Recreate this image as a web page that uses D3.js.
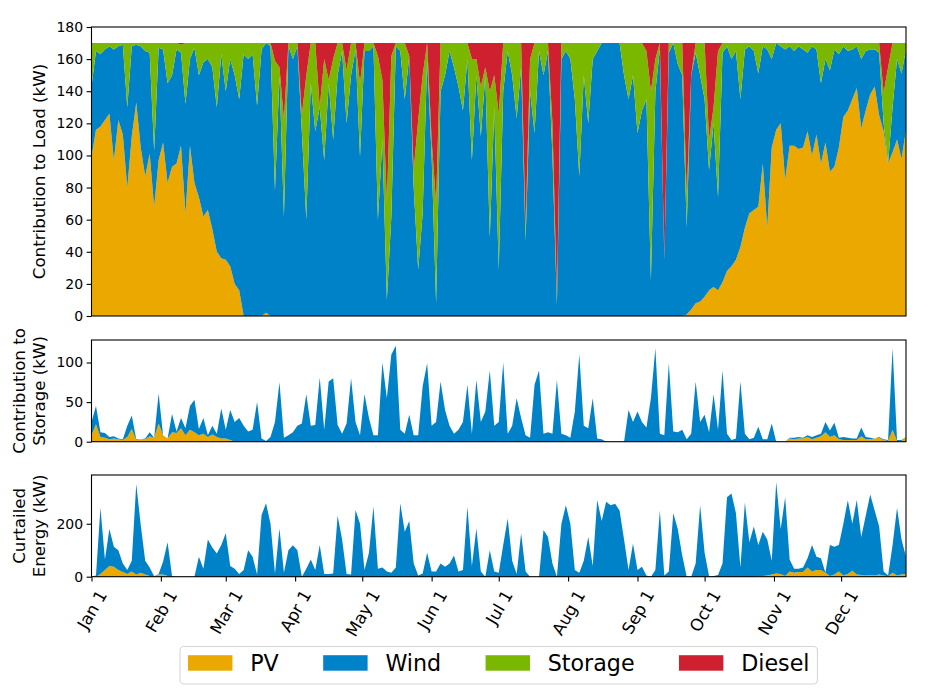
<!DOCTYPE html>
<html>
<head>
<meta charset="utf-8">
<script src="https://cdn.jsdelivr.net/npm/d3@7"></script>
<style>
body { margin: 0; background: #fff; }
text { font-family: "DejaVu Sans", sans-serif; }
</style>
</head>
<body>
<div id="container"></div>
<script>
// one sample every 2 days, from Jan 1 2016
const start = new Date(2016, 0, 1);
const dates = d3.range(183).map(i => d3.timeDay.offset(start, 2 * i));
const monthTicks = d3.timeMonth.range(new Date(2016, 0, 1), new Date(2016, 11, 2));

// contribution to load (kW)
const loadPV = [
  99,116,118,122,126,97,122,113,80,112, 133,105,87,101,68,97,108,83,93,95,
  106,64,106,83,74,62,66,54,40,36, 35,31,20,16,0,0,0,0,0,2,
  0,0,0,0,0,0,0,0,0,0, 0,0,0,0,0,0,0,0,0,0,
  0,0,0,0,0,0,0,0,0,0, 0,0,0,0,0,0,0,0,0,0,
  0,0,0,0,0,0,0,0,0,0, 0,0,0,0,0,0,0,0,0,0,
  0,0,0,0,0,0,0,0,0,0, 0,0,0,0,0,0,0,0,0,0,
  0,0,0,0,0,0,0,0,0,0, 0,0,0,1,4,8,9,12,16,18,
  16,21,28,31,35,43,55,64,66,68, 95,55,105,116,120,85,106,106,104,105,
  115,100,113,95,108,90,93,105,124,128, 135,142,117,128,138,143,125,115,95,102,
  110,98,116
];
const loadWind = [
  44,49,45,44,42,69,46,56,50,56, 36,63,78,63,35,70,58,62,57,71,
  58,68,54,84,76,96,94,101,90,127, 105,129,130,119,163,160,163,131,166,168,
  168,78,150,62,168,160,168,115,60,145, 115,130,97,145,110,150,165,120,150,166,
  99,165,165,168,60,110,10,62,168,165, 135,162,80,29,64,160,100,8,140,150,
  165,155,143,128,160,97,150,112,150,49, 130,29,140,165,150,123,155,47,140,114,
  165,150,165,100,7,160,165,160,135,87, 150,120,160,165,170,170,170,170,170,150,
  135,150,114,128,135,22,140,166,35,164, 170,157,150,54,146,156,141,123,75,102,
  58,143,140,129,130,92,111,104,99,83, 73,111,55,54,48,81,62,59,64,61,
  49,68,53,50,52,63,73,58,44,37, 31,26,43,37,28,23,39,5,0,28,
  50,53,50
];
const loadStorage = [
  27,5,7,4,2,4,2,1,40,2, 1,2,5,6,67,3,4,25,20,4,
  5,38,10,3,20,12,10,15,40,7, 30,10,20,35,7,10,7,39,4,0,
  2,81,5,60,2,10,2,10,90,25, 55,0,63,2,50,20,5,33,20,4,
  46,5,5,2,102,37,60,100,2,5, 35,0,11,93,86,10,10,62,30,20,
  5,15,27,42,10,63,10,31,5,91, 20,97,30,5,20,47,15,8,20,56,
  5,20,5,20,5,10,5,10,35,83, 20,50,10,5,0,0,0,0,0,20,
  35,20,56,42,30,118,20,4,0,6, 0,13,20,20,0,6,20,35,19,10,
  91,6,2,10,5,35,4,2,5,19, 2,4,10,0,2,4,2,5,2,4,
  6,2,4,25,10,17,4,7,2,5, 4,2,10,5,4,4,6,19,60,40,
  10,19,4
];
const loadDiesel = [
  0,0,0,0,0,0,0,0,0,0, 0,0,0,0,0,0,0,0,0,0,
  1,0,0,0,0,0,0,0,0,0, 0,0,0,0,0,0,0,0,0,0,
  0,11,15,48,0,0,0,45,20,0, 0,40,10,23,10,0,0,17,0,0,
  25,0,0,0,8,23,100,8,0,0, 0,8,79,48,20,0,60,100,0,0,
  0,0,0,0,0,10,10,27,15,30, 20,44,0,0,0,0,0,115,10,0,
  0,0,0,50,158,0,0,0,0,0, 0,0,0,0,0,0,0,0,0,0,
  0,0,0,0,5,30,10,0,135,0, 0,0,0,95,20,0,0,0,60,40,
  5,0,0,0,0,0,0,0,0,0, 0,0,0,0,0,0,0,0,0,0,
  0,0,0,0,0,0,0,0,0,0, 0,0,0,0,0,0,0,31,15,0,
  0,0,0
];

// contribution to storage (kW)
const storagePV = [
  8,22,6,5,3,4,3,2,6,16, 2,3,3,7,5,23,8,4,12,11,
  17,8,15,12,8,10,6,9,6,4, 4,2,0,0,0,0,0,0,0,0,
  0,0,0,0,0,0,0,0,0,0, 0,0,0,0,0,0,0,0,0,0,
  0,0,0,0,0,0,0,0,0,0, 0,0,0,0,0,0,0,0,0,0,
  0,0,0,0,0,0,0,0,0,0, 0,0,0,0,0,0,0,0,0,0,
  0,0,0,0,0,0,0,0,0,0, 0,0,0,0,0,0,0,0,0,0,
  0,0,0,0,0,0,0,0,0,0, 0,0,0,0,0,0,0,0,0,0,
  0,0,0,0,0,0,0,0,0,0, 0,0,0,0,0,0,4,3,4,4,
  6,3,5,7,12,6,8,3,2,2, 2,2,7,3,3,4,5,2,1,15,
  1,1,6
];
const storageWind = [
  17,23,6,6,3,3,1,1,14,17, 1,0,1,5,0,38,0,0,23,2,
  13,9,30,41,8,20,2,11,4,38, 11,38,25,30,20,13,15,50,4,1,
  6,25,75,5,8,12,20,23,60,20, 21,81,15,76,80,21,10,23,80,25,
  8,60,30,8,8,100,55,110,121,15, 10,34,8,8,70,99,20,25,76,40,
  20,10,15,25,72,10,78,25,38,90, 20,25,100,10,20,55,30,8,5,72,
  90,10,12,10,78,10,8,5,38,110, 20,17,55,4,3,0,0,0,0,0,
  40,25,38,25,18,55,118,10,8,99, 13,12,15,3,10,76,25,34,12,60,
  15,90,10,2,4,76,10,3,5,19, 3,3,23,0,0,0,1,2,2,1,
  2,3,3,3,13,8,16,2,4,3, 2,2,11,3,2,0,1,1,1,103,
  1,1,0
];

// curtailed energy (kW)
const curtailPV = [
  0,0,10,25,40,38,25,18,10,20, 8,15,8,3,0,8,8,3,0,0,
  0,0,0,0,0,0,0,0,0,0, 0,0,0,0,0,0,0,0,0,0,
  0,0,0,0,0,0,0,0,0,0, 0,0,0,0,0,0,0,0,0,0,
  0,0,0,0,0,0,0,0,0,0, 0,0,0,0,0,0,0,0,0,0,
  0,0,0,0,0,0,0,0,0,0, 0,0,0,0,0,0,0,0,0,0,
  0,0,0,0,0,0,0,0,0,0, 0,0,0,0,0,0,0,0,0,0,
  0,0,0,0,0,0,0,0,0,0, 0,0,0,0,0,0,0,0,0,0,
  0,0,0,0,0,0,0,0,0,2, 3,5,8,12,10,3,20,15,18,18,
  35,20,25,25,15,3,8,20,5,10, 22,8,6,5,6,5,8,5,2,15,
  5,8,10
];
const curtailWind = [
  0,5,250,40,140,75,75,32,15,40, 342,180,52,32,2,2,49,127,2,0,
  0,0,0,0,75,30,140,110,88,120, 164,40,30,10,25,100,75,8,233,277,
  200,12,182,15,100,119,100,0,30,65, 25,120,10,10,12,230,140,10,8,252,
  200,25,90,265,30,35,20,15,35,277, 170,210,50,5,12,90,20,20,50,38,
  50,80,20,25,264,40,182,20,0,100, 20,15,120,220,60,10,164,20,0,0,
  0,176,150,50,0,200,270,200,25,15, 60,150,40,290,210,283,270,275,250,140,
  25,125,25,38,5,0,25,250,5,20, 240,180,80,0,0,50,270,90,2,3,
  6,50,300,314,240,35,280,130,190,118, 167,135,52,346,170,297,45,15,12,17,
  35,100,50,45,0,117,105,100,195,279, 178,282,144,225,304,245,182,15,3,105,
  255,132,65
];

const names = ["PV", "Wind", "Storage", "Diesel"];
const colors = ["#eba900", "#0082c8", "#7ab800", "#cf2030"];

const svg = d3.select("#container").append("svg")
  .attr("width", 928)
  .attr("height", 700);

const left = 91.5, right = 906;
const x = d3.scaleTime()
  .domain([new Date(2016, 0, 1), new Date(2016, 11, 30)])
  .range([left, right]);

const panels = [
  {top: 27, bottom: 316, max: 180, ticks: d3.range(0, 181, 20),
   label: ["Contribution to Load (kW)"],
   series: [loadPV, loadWind, loadStorage, loadDiesel]},
  {top: 340, bottom: 441.7, max: 128.4, ticks: [0, 50, 100],
   label: ["Contribution to", "Storage (kW)"],
   series: [storagePV, storageWind]},
  {top: 475, bottom: 576.7, max: 384, ticks: [0, 200],
   label: ["Curtailed", "Energy (kW)"],
   series: [curtailPV, curtailWind]}
];

panels.forEach(function(p) {
  const y = d3.scaleLinear().domain([0, p.max]).range([p.bottom, p.top]);
  const keys = names.slice(0, p.series.length);
  const rows = dates.map(function(d, i) {
    const r = {date: d};
    keys.forEach((k, j) => r[k] = p.series[j][i]);
    return r;
  });
  const layers = d3.stack().keys(keys)(rows);
  const area = d3.area()
    .x(d => x(d.data.date))
    .y0(d => y(d[0]))
    .y1(d => y(d[1]));

  svg.append("g").selectAll("path")
    .data(layers)
    .join("path")
    .attr("fill", (d, i) => colors[i])
    .attr("d", area);

  // y axis
  const ax = svg.append("g")
    .attr("transform", "translate(" + left + ",0)")
    .call(d3.axisLeft(y).tickValues(p.ticks).tickSize(4.9).tickPadding(3.5));
  ax.select(".domain").remove();
  ax.selectAll("line").attr("stroke", "#000").attr("stroke-width", 1.1);
  ax.selectAll("text")
    .attr("fill", "#000")
    .style("font-size", "14px")
    .style("font-family", "DejaVu Sans");

  // frame
  svg.append("rect")
    .attr("x", left)
    .attr("y", p.top)
    .attr("width", right - left)
    .attr("height", p.bottom - p.top)
    .attr("fill", "none")
    .attr("stroke", "#000")
    .attr("stroke-width", 1.1);

  // y label
  const cy = (p.top + p.bottom) / 2;
  const n = p.label.length;
  p.label.forEach(function(t, k) {
    const cx = 39 - (n - 1 - k) * 20;
    svg.append("text")
      .attr("transform", "translate(" + cx + "," + cy + ") rotate(-90)")
      .attr("text-anchor", "middle")
      .attr("dy", "0.35em")
      .style("font-size", "16.7px")
      .text(t);
  });
});

// x axis on the bottom panel
const bottom = panels[2].bottom;
const xa = svg.append("g")
  .attr("transform", "translate(0," + bottom + ")")
  .call(d3.axisBottom(x).tickValues(monthTicks).tickSize(4.9)
    .tickFormat(d3.timeFormat("%b %-d")));
xa.select(".domain").remove();
xa.selectAll("line").attr("stroke", "#000").attr("stroke-width", 1.1);
xa.selectAll("text")
  .attr("fill", "#000")
  .style("font-size", "16.7px")
  .style("font-family", "DejaVu Sans")
  .attr("text-anchor", "middle")
  .attr("x", 0)
  .attr("y", 0)
  .attr("dy", "0.35em")
  .attr("transform", function() {
    const L = this.getComputedTextLength();
    const c = 9.8 + L * 0.433 + 5;
    return "translate(0," + c + ") rotate(-60)";
  });

// legend
const lg = svg.append("g");
const fs = 22.2, handle = 44.4, gap = 17.8, colGap = 44.4, ly = 663;
const items = names.map(function(name, i) {
  const t = lg.append("text")
    .attr("y", ly)
    .attr("dy", "0.35em")
    .style("font-size", fs + "px")
    .text(name);
  return {t: t, w: t.node().getComputedTextLength(), color: colors[i]};
});
const total = d3.sum(items, d => handle + gap + d.w) + colGap * (items.length - 1);
let cx = (left + right) / 2 - total / 2;
lg.insert("rect", ":first-child")
  .attr("x", cx - 8)
  .attr("y", 646.5)
  .attr("width", total + 16)
  .attr("height", 37.5)
  .attr("rx", 4)
  .attr("fill", "#fff")
  .attr("stroke", "#d6d6d6")
  .attr("stroke-width", 1.1);
items.forEach(function(d) {
  lg.append("rect")
    .attr("x", cx)
    .attr("y", ly - 7.8)
    .attr("width", handle)
    .attr("height", 15.5)
    .attr("fill", d.color);
  d.t.attr("x", cx + handle + gap);
  cx += handle + gap + d.w + colGap;
});
</script>
</body>
</html>
